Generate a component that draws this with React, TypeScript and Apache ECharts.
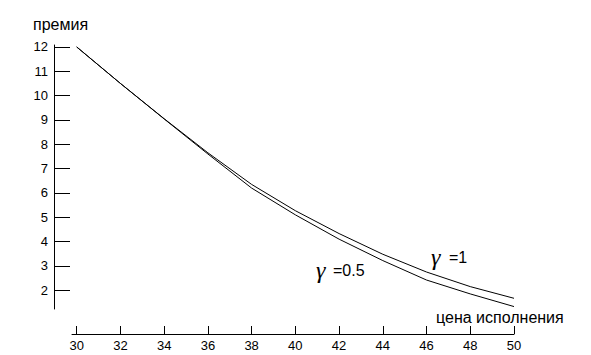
import React, { useEffect, useRef } from "react";
import * as echarts from "echarts";

const strikes = [30, 32, 34, 36, 38, 40, 42, 44, 46, 48, 50];
const premiumGamma1 = [12.0, 10.5, 9.05, 7.65, 6.35, 5.27, 4.33, 3.48, 2.75, 2.15, 1.67];
const premiumGamma05 = [12.0, 10.5, 9.04, 7.6, 6.2, 5.1, 4.1, 3.22, 2.42, 1.85, 1.33];
const xTicks = [30, 32, 34, 36, 38, 40, 42, 44, 46, 48, 50];
const yTicks = [2, 3, 4, 5, 6, 7, 8, 9, 10, 11, 12];

const FONT = "'Liberation Sans', Arial, sans-serif";
const SERIF = "'Liberation Serif', 'DejaVu Serif', serif";

function txt(text: string, x: number, y: number, fontSize: number, extra: any = {}) {
  return {
    type: "text",
    x,
    y,
    style: {
      text,
      fontSize,
      fontFamily: FONT,
      fill: "#000",
      align: "left",
      verticalAlign: "middle",
      ...extra,
    },
  };
}

export default function App() {
  const ref = useRef<HTMLDivElement>(null);
  useEffect(() => {
    if (!ref.current) return;
    const chart = echarts.init(ref.current, null, { renderer: "svg" });
    const axisStyle = { color: "#000", width: 1 };
    chart.setOption({
      animation: false,
      backgroundColor: "#fff",
      grid: { left: 72, right: 77, top: 45, bottom: 46, containLabel: false },
      xAxis: {
        type: "value",
        min: 29.785,
        max: 50,
        offset: 25,
        axisLine: { show: true, lineStyle: axisStyle },
        axisTick: { show: true, inside: true, length: 8, lineStyle: axisStyle, customValues: xTicks },
        axisLabel: { color: "#000", fontSize: 13, fontFamily: FONT, margin: 5, customValues: xTicks },
        splitLine: { show: false },
      },
      yAxis: {
        type: "value",
        min: 1.23,
        max: 12.08,
        offset: 18,
        axisLine: { show: true, lineStyle: axisStyle },
        axisTick: { show: true, inside: true, length: 16, lineStyle: axisStyle, customValues: yTicks },
        axisLabel: { color: "#000", fontSize: 13, fontFamily: FONT, margin: 6, customValues: yTicks },
        splitLine: { show: false },
      },
      graphic: [
        txt("премия", 33, 24, 16),
        txt("цена исполнения", 436, 317, 16),
        txt("γ", 431, 256.5, 24, { fontStyle: "italic", fontFamily: SERIF }),
        txt("=1", 449, 257.8, 16),
        txt("γ", 316, 269.5, 24, { fontStyle: "italic", fontFamily: SERIF }),
        txt("=0.5", 333, 270.8, 16),
      ],
      series: [
        {
          name: "γ=1",
          type: "line",
          showSymbol: false,
          lineStyle: { color: "#000", width: 1 },
          data: strikes.map((s, i) => [s, premiumGamma1[i]]),
        },
        {
          name: "γ=0.5",
          type: "line",
          showSymbol: false,
          lineStyle: { color: "#000", width: 1 },
          data: strikes.map((s, i) => [s, premiumGamma05[i]]),
        },
      ],
    });
    return () => chart.dispose();
  }, []);
  return (
    <div
      ref={ref}
      style={{ position: "fixed", left: 0, top: 0, width: 591, height: 355, background: "#fff" }}
    />
  );
}
